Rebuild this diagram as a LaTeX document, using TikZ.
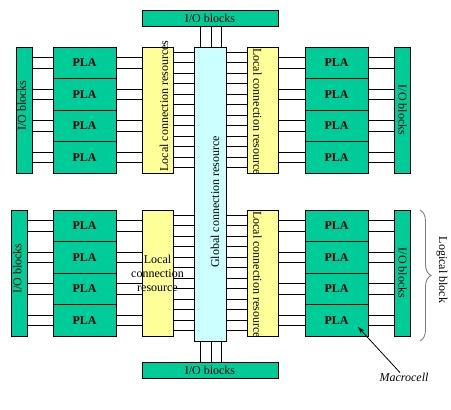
\documentclass[tikz,border=0pt]{standalone}
\usepackage{fontspec}
\setmainfont{Liberation Serif}
\usetikzlibrary{calc,decorations.pathreplacing,arrows.meta}
\definecolor{grn}{RGB}{0,204,153}
\definecolor{ylw}{RGB}{255,255,153}
\definecolor{cyn}{RGB}{204,255,255}
\begin{document}
\begin{tikzpicture}[x=1pt,y=-1pt,
  font=\fontsize{12}{14}\selectfont,
  box/.style={draw, line width=0.9pt, inner sep=0pt, outer sep=0pt, anchor=north west},
  iobox/.style={box, fill=grn, minimum width=16pt},
  locbox/.style={box, fill=ylw, minimum width=31pt, minimum height=126pt},
  plabox/.style={box, fill=grn, minimum width=63pt, minimum height=31.5pt, font=\fontsize{12}{14}\selectfont\bfseries},
  wire/.style={line width=0.9pt},
  lbl/.style={inner sep=0pt}]
\useasboundingbox (0,0) rectangle (451,410);

% global resource and top/bottom I/O
\node[box, fill=cyn, minimum width=32pt, minimum height=294pt] (glob) at (194,47) {};
\node[box, fill=grn, minimum width=136pt, minimum height=16pt] (ioTop) at (142,10) {};
\node[box, fill=grn, minimum width=136pt, minimum height=16pt] (ioBot) at (142,362) {};
\node[lbl] (tTop) at (ioTop.center) {I/O blocks};
\node[lbl] (tBot) at (ioBot.center) {I/O blocks};
\node[lbl, rotate=90] (tGlob) at ($(glob.center)+(5,8)$) {Global connection resource};

\foreach \dx in {6.7,17,27.3} {
  \coordinate (vt) at ($(glob.north west)+(\dx,0)$);
  \coordinate (vb) at ($(glob.south west)+(\dx,0)$);
  \draw[wire] (ioTop.south -| vt) -- (vt);
  \draw[wire] (vb) -- (ioBot.north -| vb);
}

% quadrants
\foreach \q/\y/\iox in {T/47/16, B/210/11} {
  \node[iobox, minimum height=126pt] (ioL\q) at (\iox,\y) {};
  \node[iobox, minimum height=126pt] (ioR\q) at (394,\y) {};
  \node[locbox] (locL\q) at (142,\y) {};
  \node[locbox] (locR\q) at (247,\y) {};
  \foreach \i in {1,...,4} {
    \pgfmathsetmacro\yy{\y+(\i-1)*31.5}
    \node[plabox] (plaL\q\i) at (53,\yy) {PLA};
    \node[plabox] (plaR\q\i) at (305,\yy) {PLA};
    \foreach \f in {0.333,0.667} {
      \coordinate (t) at ($(plaL\q\i.north west)!\f!(plaL\q\i.south west)$);
      \draw[wire] (ioL\q.east |- t) -- (t);
      \draw[wire] (plaL\q\i.east |- t) -- (locL\q.west |- t);
      \draw[wire] (locR\q.east |- t) -- (plaR\q\i.west |- t);
      \draw[wire] (plaR\q\i.east |- t) -- (ioR\q.west |- t);
    }
  }
  \foreach \k in {1,...,12} {
    \pgfmathsetmacro\fr{(2*\k-1)/24}
    \coordinate (u) at ($(locL\q.north east)!\fr!(locL\q.south east)$);
    \draw[wire] (u) -- (glob.west |- u);
    \draw[wire] (glob.east |- u) -- (locR\q.west |- u);
  }
}

% texts in the side blocks
\node[lbl, rotate=90] (tIoLT) at ($(ioLT.center)+(-2.3,-4.5)$) {I/O blocks};
\node[lbl, rotate=90] (tIoLB) at ($(ioLB.center)+(-1.8,-4.5)$) {I/O blocks};
\node[lbl, rotate=-90] (tIoRT) at ($(ioRT.center)+(0.7,0)$) {I/O blocks};
\node[lbl, rotate=-90] (tIoRB) at ($(ioRB.center)+(0.7,0)$) {I/O blocks};
\node[lbl, rotate=90] (tLocLT) at ($(locLT.center)+(6.5,-4)$) {Local connection resources};
\node[lbl, rotate=-90] (tLocRT) at ($(locRT.center)+(-5,1.5)$) {Local connection resource};
\node[lbl, rotate=-90] (tLocRB) at ($(locRB.center)+(-5,1.5)$) {Local connection resource};
\node[lbl, align=center] (tLocLB) at (locLB.center) {Local\\connection\\resource};

% logical block brace
\coordinate (brA) at (420,210);
\coordinate (brB) at (420,341);
\draw[gray, line width=0.9pt, decorate, decoration={brace, amplitude=11pt}] (brA) -- (brB);
\node[lbl, rotate=-90] (tLogic) at (442,270) {Logical block};

% macrocell
\node[lbl, font=\fontsize{12}{14}\selectfont\itshape] (mac) at (404,377) {Macrocell};
\coordinate (mtip) at (358,327);
\draw[line width=0.8pt, -{Stealth[length=7pt,width=4.5pt]}] ($(mac.north)+(-4,0)$) -- (mtip);
\end{tikzpicture}
\end{document}
